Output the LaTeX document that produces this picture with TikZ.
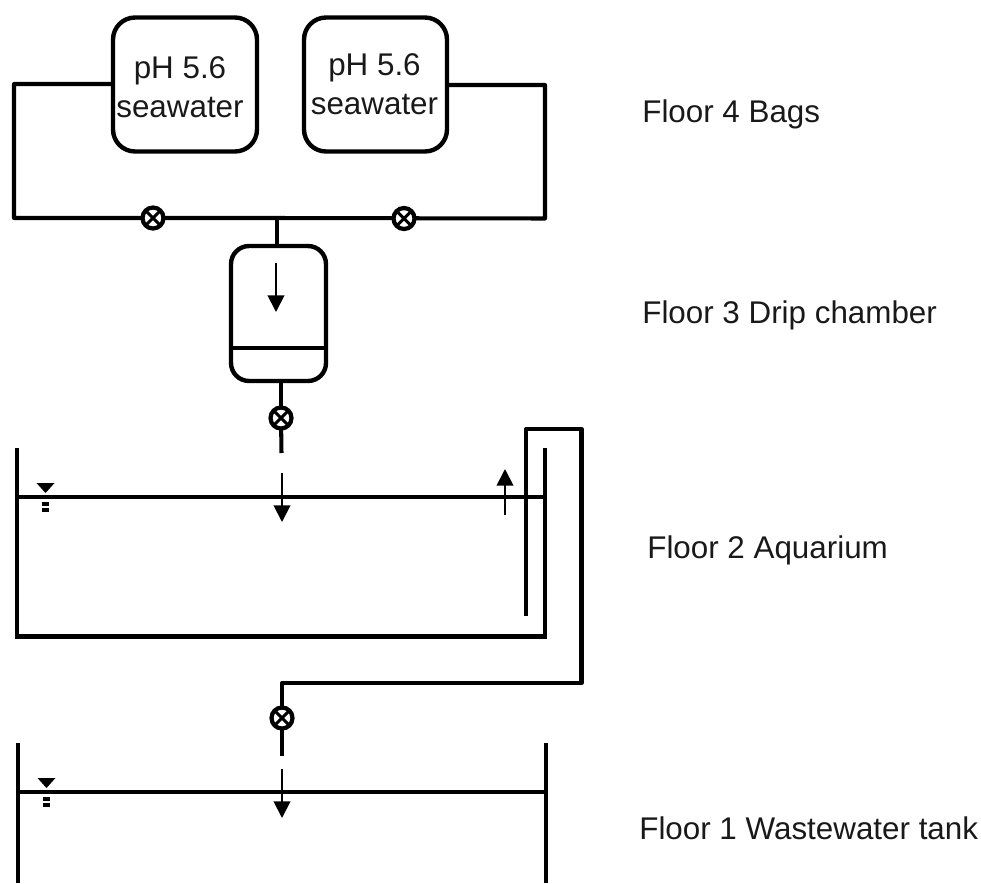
\documentclass[tikz,border=0pt]{standalone}
\usepackage{fontspec}
\setmainfont{Liberation Sans}
\usetikzlibrary{arrows.meta}

\begin{document}
\begin{tikzpicture}[x=0.02cm,y=-0.02cm,
    pipe/.style={line width=2.3pt,line join=round},
    wall/.style={line width=2.3pt},
    flow/.style={line width=1.1pt,-{Triangle[length=9.5pt,width=9.5pt]}},
    vessel/.style={draw,line width=2.5pt,rounded corners=0.44cm,inner sep=0pt,outer sep=0pt},
    valve/.style={circle,draw,fill=white,line width=2.4pt,minimum size=0.42cm,inner sep=0pt,
      path picture={\draw[line width=1.8pt] (path picture bounding box.north west) -- (path picture bounding box.south east)
        (path picture bounding box.north east) -- (path picture bounding box.south west);}},
    floorlabel/.style={anchor=base west,inner sep=0pt,font=\fontsize{17.85pt}{21pt}\selectfont,text=black!90},
    baglabel/.style={align=center,font=\fontsize{17.85pt}{22pt}\selectfont,text=black!90}]
  \useasboundingbox (0,0) rectangle (981,883);
  % Bags
  \node[vessel,minimum width=2.88cm,minimum height=2.68cm] (bagleft) at (185,84.5) {};
  \node[vessel,minimum width=2.86cm,minimum height=2.68cm] (bagright) at (375.5,84.5) {};
  \node[baglabel] (textleft) at (180,87.5) {pH 5.6\\seawater};
  \node[baglabel] (textright) at (374.5,84.5) {pH 5.6\\seawater};
  % Drip chamber
  \node[vessel,minimum width=1.9cm,minimum height=2.7cm,rounded corners=0.36cm] (chamber) at (278.5,313.5) {};
  \draw[wall] (chamber.west |- 0,348) -- (chamber.east |- 0,348);
  % Valves
  \coordinate (valveleft) at (153,218);
  \coordinate (valveright) at (404,218.5);
  \coordinate (valvedrip) at (281,418);
  \coordinate (valvetank) at (282,718);
  % Bag lines
  \coordinate (cornerleft) at (14,84);
  \coordinate (cornerright) at (545,85);
  \coordinate (tee) at (277,218);
  \draw[pipe] (bagleft.west |- cornerleft) -- (cornerleft) -- (14,218) -- (277,218) -- (545,218.5) -- (cornerright) -- (bagright.east |- cornerright);
  \draw[pipe] (tee) -- (tee |- chamber.north);
  \node[valve] (stopleft) at (valveleft) {};
  \node[valve] (stopright) at (valveright) {};
  % Drip line
  \coordinate (dripend) at (281.5,453);
  \draw[pipe] (valvedrip |- chamber.south) -- (valvedrip);
  \draw[pipe] (valvedrip) -- (dripend);
  \node[valve] (stopdrip) at (valvedrip) {};
  % Aquarium
  \draw[wall] (17,448) -- (17,636.5) -- (545,636.5) -- (545,448);
  \draw[wall] (17,497) -- (545,497);
  % Siphon
  \coordinate (siphonstart) at (526,616);
  \coordinate (siphonend) at (282,756);
  \draw[pipe] (siphonstart) -- (526,429) -- (581.5,429) -- (581.5,683) -- (282,683) -- (valvetank);
  \draw[pipe] (valvetank) -- (siphonend);
  \node[valve] (stoptank) at (valvetank) {};
  % Wastewater tank
  \draw[wall] (18,743) -- (18,883);
  \draw[wall] (546,743) -- (546,883);
  \draw[wall] (18,792) -- (546,792);
  % Flow arrows
  \coordinate (dropa) at (276,263);
  \coordinate (dropb) at (276,312);
  \coordinate (dropc) at (282,473);
  \coordinate (dropd) at (282,522);
  \coordinate (risea) at (505,515);
  \coordinate (riseb) at (505,469);
  \coordinate (drope) at (282,769);
  \coordinate (dropf) at (282,818);
  \draw[flow] (dropa) -- (dropb);
  \draw[flow] (dropc) -- (dropd);
  \draw[flow] (risea) -- (riseb);
  \draw[flow] (drope) -- (dropf);
  % Water levels
  \foreach \lev/\mid in {497/45.5,792/46.5} {
    \fill (\mid-9,\lev-14) -- (\mid+9,\lev-14) -- (\mid,\lev-4) -- cycle;
    \fill (\mid-3.5,\lev+5) rectangle (\mid+3.5,\lev+9);
    \fill (\mid-3.5,\lev+11) rectangle (\mid+3.5,\lev+15);
  }
  % Floors
  \node[floorlabel] (floorfour) at (642,122) {Floor 4 Bags};
  \node[floorlabel] (floorthree) at (642,323) {Floor 3 Drip chamber};
  \node[floorlabel] (floortwo) at (647,558) {Floor 2 Aquarium};
  \node[floorlabel] (floorone) at (639,839) {Floor 1 Wastewater tank};
\end{tikzpicture}
\end{document}
